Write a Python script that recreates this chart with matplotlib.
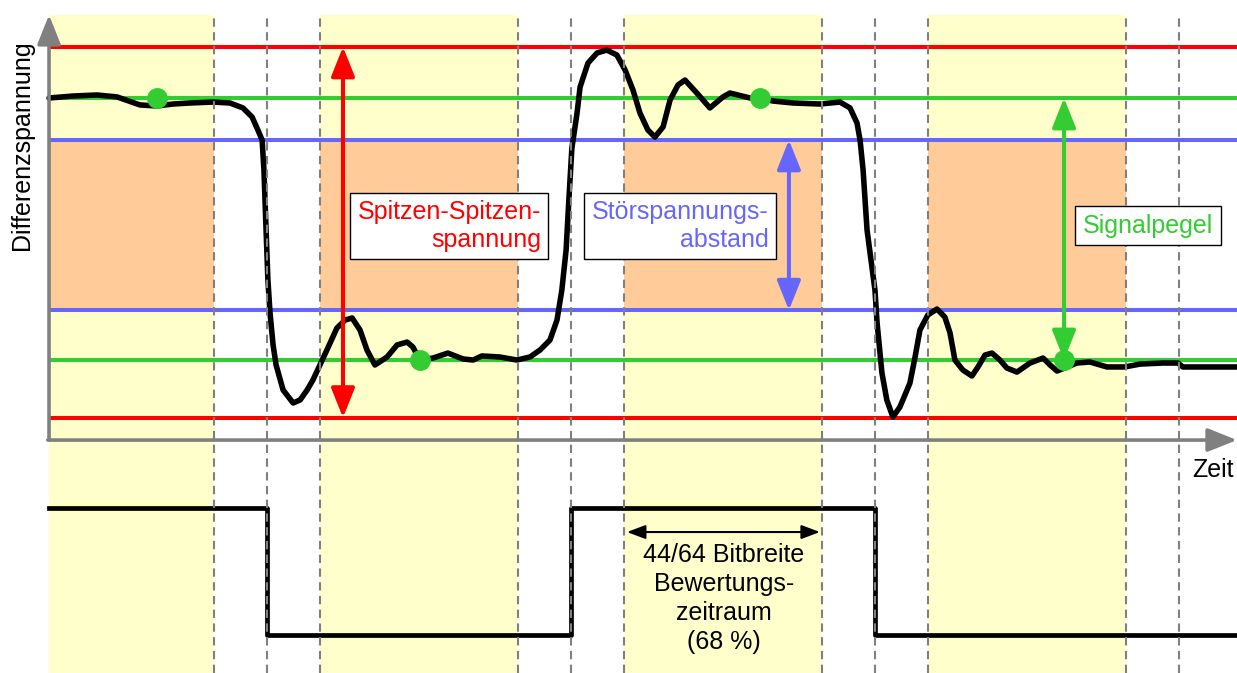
import numpy as np
import matplotlib
matplotlib.use('Agg')
import matplotlib.pyplot as plt

plt.rcParams['font.family'] = ['Liberation Sans', 'DejaVu Sans']

# time in bit periods, voltage in units of the nominal signal level
t_sig = [0.283, 0.362, 0.441, 0.507, 0.582, 0.638, 0.691, 0.747, 0.822, 0.878, 0.921, 0.951,
         0.970, 0.984, 0.990, 0.997, 1.003, 1.010, 1.020, 1.030, 1.053, 1.086, 1.109, 1.132,
         1.151, 1.197, 1.230, 1.257, 1.280, 1.306, 1.329, 1.355, 1.395, 1.428, 1.461, 1.480,
         1.503, 1.546, 1.595, 1.645, 1.678, 1.707, 1.766, 1.822, 1.865, 1.898, 1.931, 1.954,
         1.970, 1.984, 1.993, 2.003, 2.020, 2.030, 2.056, 2.086, 2.118, 2.151, 2.178, 2.204,
         2.227, 2.253, 2.276, 2.303, 2.326, 2.352, 2.375, 2.414, 2.457, 2.500, 2.523, 2.589,
         2.622, 2.664, 2.730, 2.819, 2.885, 2.918, 2.941, 2.951, 2.961, 2.974, 2.987, 3.000,
         3.007, 3.023, 3.039, 3.059, 3.082, 3.115, 3.132, 3.148, 3.174, 3.204, 3.230, 3.247,
         3.263, 3.289, 3.319, 3.339, 3.362, 3.385, 3.411, 3.434, 3.467, 3.510, 3.553, 3.576,
         3.599, 3.664, 3.707, 3.763, 3.822, 3.872, 3.947, 3.997, 4.013, 4.191]
v_sig = [1.000, 1.015, 1.023, 1.008, 0.947, 0.939, 0.954, 0.962, 0.969, 0.962, 0.924, 0.855,
         0.756, 0.679, 0.450, -0.008, -0.389, -0.641, -0.885, -1.038, -1.229, -1.328, -1.305, -1.229,
         -1.153, -0.924, -0.756, -0.695, -0.679, -0.771, -0.924, -1.038, -0.977, -0.885, -0.863, -0.901,
         -1.000, -0.985, -0.947, -0.992, -1.000, -0.969, -0.977, -1.000, -0.977, -0.924, -0.847, -0.695,
         -0.466, -0.160, 0.221, 0.618, 0.885, 1.084, 1.267, 1.344, 1.366, 1.328, 1.214, 1.061,
         0.885, 0.756, 0.702, 0.779, 0.985, 1.099, 1.137, 1.038, 0.924, 1.008, 1.038, 1.000,
         1.000, 0.977, 0.962, 0.954, 0.969, 0.924, 0.809, 0.679, 0.450, -0.008, -0.237, -0.466,
         -0.718, -1.099, -1.305, -1.435, -1.359, -1.176, -0.977, -0.771, -0.656, -0.611, -0.672, -0.794,
         -1.000, -1.076, -1.122, -1.053, -0.962, -0.947, -1.000, -1.061, -1.092, -1.023, -0.985, -1.038,
         -1.084, -1.023, -1.015, -1.053, -1.053, -1.031, -1.023, -1.023, -1.053, -1.053]

# digital data bits
bit_edges = [0.283, 1, 2, 3, 4.191]
bits = [1, 0, 1, 0]
dig_high, dig_low = -2.13, -3.10

# levels
peak_hi, peak_lo = 1.39, -1.44
sig_hi, sig_lo = 1.0, -1.0
noise_hi, noise_lo = 0.68, -0.62

# evaluation window inside each bit (fraction of bit)
win_start, win_end = 0.175, 0.825
dots_t = [0.638, 1.503, 2.622, 3.622]
dots_v = [sig_hi, sig_lo, sig_hi, sig_lo]

x0, x1 = 0.283, 4.191
y_axis = -1.611
y_top = 1.634
y_bot = -3.389

YELLOW = '#FFFFCC'
ORANGE = '#FFCC99'
GRAY = '#808080'
RED = '#FF0000'
GREEN = '#33CC33'
BLUE = '#6666FF'

fig = plt.figure(figsize=(12.37, 6.73), dpi=100)
ax = fig.add_axes([0, 0, 1, 1])
ax.set_xlim(0.1217, 4.191)
ax.set_ylim(y_bot, 1.748)
ax.axis('off')

# evaluation windows
for k in range(4):
    a = max(k + win_start, x0)
    b = k + win_end
    ax.fill_between([a, b], y_bot, y_top, color=YELLOW, lw=0, zorder=0)
    ax.fill_between([a, b], noise_lo, noise_hi, color=ORANGE, lw=0, zorder=0.5)

# dashed grid
for k in range(5):
    for xv in [k, k + win_start, k + win_end]:
        if x0 < xv < 4.1:
            ax.plot([xv, xv], [y_bot, y_top], color=GRAY, lw=1.5,
                    linestyle=(0, (4, 2.6)), zorder=4)

# level lines
for yv, c in [(peak_hi, RED), (peak_lo, RED), (sig_hi, GREEN), (sig_lo, GREEN),
              (noise_hi, BLUE), (noise_lo, BLUE)]:
    ax.plot([x0, x1], [yv, yv], color=c, lw=2.9, zorder=2, solid_capstyle='butt')

# axes arrows
head = '-|>,head_length=0.9,head_width=0.36'
ax.annotate('', xy=(x0, y_top), xytext=(x0, y_axis),
            arrowprops=dict(arrowstyle=head, color=GRAY, lw=2.6, mutation_scale=20,
                            shrinkA=0, shrinkB=0), zorder=5)
ax.annotate('', xy=(x1, y_axis), xytext=(x0 - 0.004, y_axis),
            arrowprops=dict(arrowstyle=head, color=GRAY, lw=2.6, mutation_scale=20,
                            shrinkA=0, shrinkB=0), zorder=5)

# analog signal
ax.plot(t_sig, v_sig, color='black', lw=4, solid_joinstyle='round',
        solid_capstyle='round', zorder=3)

# digital signal
levels = [dig_high if b else dig_low for b in bits]
ax.step(bit_edges, levels + [levels[-1]], where='post', color='black', lw=3.4, zorder=3)

ax.plot(dots_t, dots_v, 'o', color=GREEN, ms=14, zorder=6)

# double arrows
def darrow(x, ya, yb, c):
    ax.annotate('', xy=(x, ya), xytext=(x, yb),
                arrowprops=dict(arrowstyle='<|-|>,head_length=0.9,head_width=0.36',
                                color=c, lw=2.9, mutation_scale=20,
                                shrinkA=0, shrinkB=0), zorder=7)

darrow(1.25, peak_hi, peak_lo, RED)
darrow(2.717, noise_hi, noise_lo, BLUE)
darrow(3.622, sig_hi, sig_lo, GREEN)

box = dict(boxstyle='square,pad=0.3', fc='white', ec='black', lw=1)
ax.text(1.599, 0.023, 'Spitzen-Spitzen-\nspannung', color=RED, fontsize=18,
        ha='center', va='center', multialignment='right', bbox=box, zorder=8,
        linespacing=1.2)
ax.text(2.359, 0.023, 'Störspannungs-\nabstand', color=BLUE, fontsize=18,
        ha='center', va='center', multialignment='right', bbox=box, zorder=8,
        linespacing=1.2)
ax.text(3.898, 0.023, 'Signalpegel', color=GREEN, fontsize=18,
        ha='center', va='center', bbox=box, zorder=8)

ax.annotate('', xy=(2.184, -2.313), xytext=(2.819, -2.313),
            arrowprops=dict(arrowstyle='<|-|>,head_length=0.8,head_width=0.3',
                            color='black', lw=1.5, mutation_scale=14,
                            shrinkA=0, shrinkB=0), zorder=7)
ax.text(2.503, -2.40, '44/64 Bitbreite\nBewertungs-\nzeitraum\n(68 %)', fontsize=18,
        ha='center', va='top', linespacing=1.25, zorder=8)

ax.text(0.194, 0.641, 'Differenzspannung', rotation=90, fontsize=18,
        ha='center', va='center')
ax.text(4.181, -1.84, 'Zeit', fontsize=18, ha='right', va='center')

fig.savefig('out.png', dpi=100)
